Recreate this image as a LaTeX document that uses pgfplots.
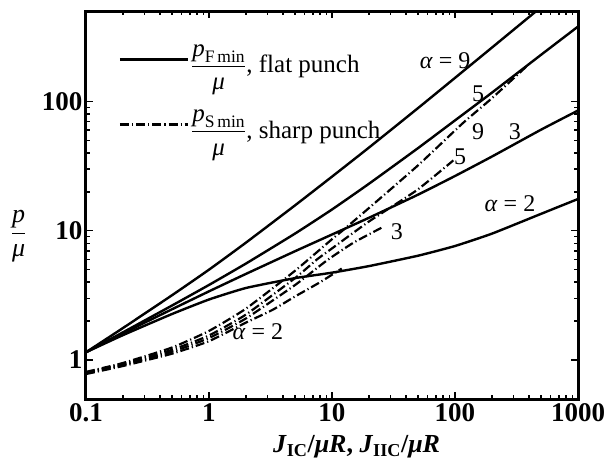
\documentclass[border=0pt]{standalone}
\usepackage{amsmath}
\usepackage{fontspec}
\setmainfont{Liberation Serif}
\usepackage{pgfplots}
\pgfplotsset{compat=1.18}
\usetikzlibrary{calc}
\tikzset{dd/.style={line width=2.2pt, dash pattern=on 9pt off 3pt on 1.2pt off 3pt}}
\begin{document}
\begin{tikzpicture}
\begin{axis}[
  xmode=log, ymode=log,
  scale only axis, width=492pt, height=388pt,
  xmin=0.1, xmax=1000, ymin=0.5, ymax=500,
  xtick={0.1,1,10,100,1000}, xticklabels={0.1,1,10,100,1000},
  ytick={1,10,100}, yticklabels={1,10,100},
  tick align=inside, xtick pos=both, ytick pos=both,
  major tick length=7pt, minor tick length=4pt,
  every tick/.style={black, line width=1.5pt},
  axis line style={line width=3pt},
  tick label style={font=\fontsize{27}{29}\selectfont\bfseries},
  xticklabel style={yshift=-1pt},
  xlabel={\textit{J}\textsubscript{IC}/\textit{μR}, \textit{J}\textsubscript{IIC}/\textit{μR}},
  xlabel style={font=\fontsize{26}{28}\selectfont\bfseries, at={(axis description cs:0.55,-0.085)}, anchor=north},
  ylabel={$\dfrac{\textit{p}}{\textit{μ}}$},
  ylabel style={rotate=-90, font=\fontsize{26}{28}\selectfont, at={(axis description cs:-0.137,0.42)}, anchor=center},
  legend style={draw=none, fill=none, at={(axis description cs:0.06,0.925)}, anchor=north west,
    font=\fontsize{25}{27}\selectfont, row sep=31pt},
  legend cell align=left,
  legend image code/.code={\draw[#1] (0pt,0pt) -- (68pt,0pt);},
  every axis plot/.append style={smooth, tension=0.3},
]
% flat punch, solid
\addplot[black, line width=2.4pt] coordinates {(0.1,1.15)(0.2,1.77)(0.5,3.17)(1,5.0)(2,8.1)(5,15.7)(10,26.2)(20,44)(50,88.7)(100,152)(200,261)(500,535)};
\addlegendentry{$\dfrac{\textit{p}_{\text{F\,min}}}{\textit{μ}}$, flat punch}
\addplot[black, line width=2.4pt, forget plot] coordinates {(0.1,1.15)(0.2,1.64)(0.5,2.64)(1,3.81)(2,5.58)(5,9.5)(10,14.6)(20,23.1)(50,43.5)(100,71.3)(200,117)(500,229)(1000,379)};
\addplot[black, line width=2.4pt, forget plot] coordinates {(0.1,1.15)(0.2,1.61)(0.5,2.47)(1,3.40)(2,4.64)(5,6.94)(10,9.35)(20,12.6)(50,19.0)(100,26.5)(200,37.5)(500,60.4)(1000,85)};
\addplot[black, line width=2.4pt, forget plot] coordinates {(0.1,1.15)(0.2,1.56)(0.5,2.27)(1,2.94)(2,3.61)(5,4.30)(10,4.74)(20,5.33)(50,6.41)(100,7.62)(200,9.5)(500,13.5)(1000,17.6)};
% sharp punch, dash-dot
\addplot[black, dd] coordinates {(0.1,0.81)(0.2,0.95)(0.5,1.25)(1,1.68)(2,2.5)(5,4.9)(10,8.6)(12.3,10.1)(20,15)(50,32)(116,68)(200,106)(385,188)};
\addlegendentry{$\dfrac{\textit{p}_{\text{S\,min}}}{\textit{μ}}$, sharp punch}
\addplot[black, dd, forget plot] coordinates {(0.1,0.80)(0.2,0.93)(0.5,1.2)(1,1.55)(2,2.25)(5,4.3)(7.55,6.0)(10,7.3)(20,11.8)(49,20.6)(97,35)};
\addplot[black, dd, forget plot] coordinates {(0.1,0.80)(0.2,0.92)(0.5,1.16)(1,1.48)(2,2.1)(5,3.8)(9.1,5.9)(15,8.1)(26,10.7)};
\addplot[black, dd, forget plot] coordinates {(0.1,0.78)(0.2,0.9)(0.5,1.12)(1,1.4)(2,1.95)(3.3,2.45)(5,3.1)(8,4.0)(12,5.1)};
% labels
\begin{scope}[every node/.style={font=\fontsize{24}{26}\selectfont}]
\node at (axis cs:83,205) {\textit{α} = 9};
\node at (axis cs:154,114) {5};
\node at (axis cs:154,58) {9};
\node at (axis cs:307,58) {3};
\node at (axis cs:110,37) {5};
\node at (axis cs:280,16.1) {\textit{α} = 2};
\node at (axis cs:33.7,9.77) {3};
\node at (axis cs:2.5,1.65) {\textit{α} = 2};
\end{scope}
\coordinate (SW) at (rel axis cs:0,0);
\coordinate (NE) at (rel axis cs:1,1);
\end{axis}
\pgfresetboundingbox
\path ($(SW)+(-86pt,-63pt)$) rectangle ($(NE)+(27pt,11pt)$);
\end{tikzpicture}
\end{document}
